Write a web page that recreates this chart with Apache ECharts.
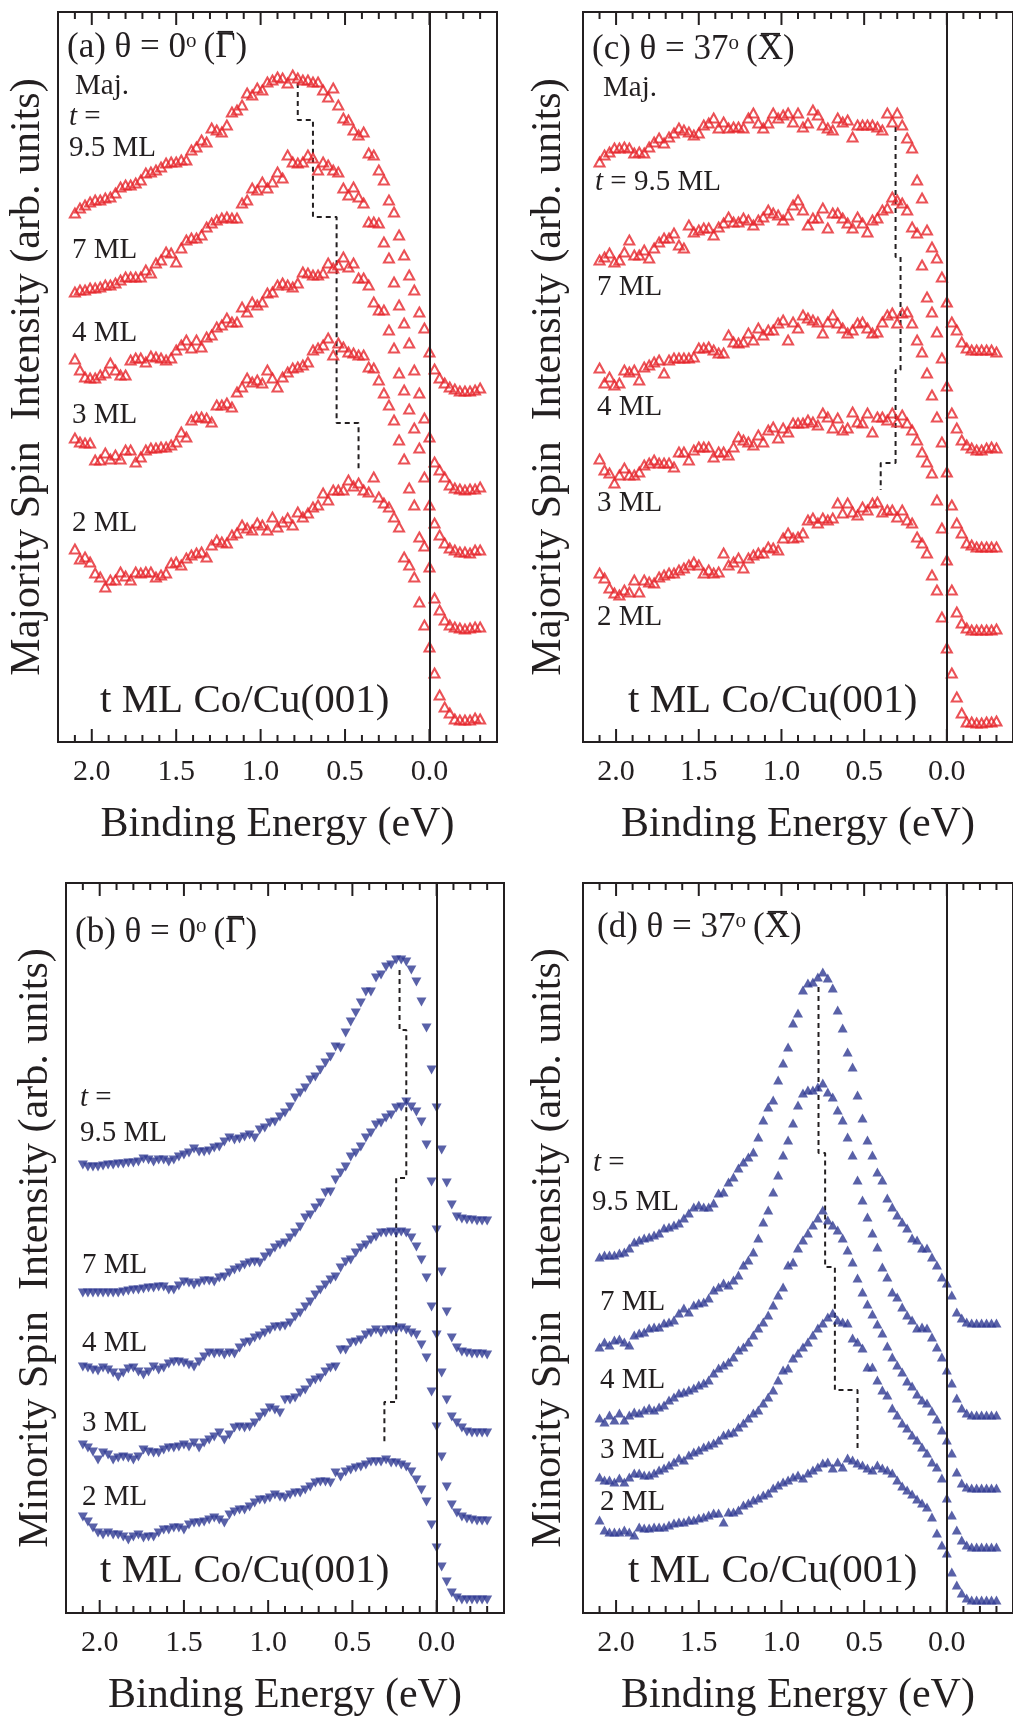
<!DOCTYPE html>
<html><head><meta charset="utf-8">
<script src="https://cdn.jsdelivr.net/npm/echarts/dist/echarts.min.js"></script>
<style>html,body{margin:0;padding:0;background:#fff}#c{width:1013px;height:1720px}</style>
</head><body><div id="c"></div>
<script>
// ---------------- DATA ----------------
// binding energy sampling (eV)
const energy = [2.10,2.07,2.04,2.01,1.98,1.95,1.92,1.89,1.86,1.83,1.80,1.77,1.74,1.71,1.68,1.65,1.62,1.59,1.56,1.53,
1.50,1.47,1.44,1.41,1.38,1.35,1.32,1.29,1.26,1.23,1.20,1.17,1.14,1.11,1.08,1.05,1.02,0.99,0.96,0.93,
0.90,0.87,0.84,0.81,0.78,0.75,0.72,0.69,0.66,0.63,0.60,0.57,0.54,0.51,0.48,0.45,0.42,0.39,0.36,0.33,
0.30,0.27,0.24,0.21,0.18,0.15,0.12,0.09,0.06,0.03,0.00,-0.03,-0.06,-0.09,-0.12,-0.15,-0.18,-0.21,-0.24,-0.27,-0.30];
const majorTicks = [2.0, 1.5, 1.0, 0.5, 0.0];
const minorTicks = [2.1,1.9,1.8,1.7,1.6,1.4,1.3,1.2,1.1,0.9,0.8,0.7,0.6,0.4,0.3,0.2,0.1,-0.1,-0.2,-0.3];
const thickness = ['9.5 ML','7 ML','4 ML','3 ML','2 ML'];

// (a) majority, theta = 0 (offset spectra, arb. units)
const a95 = [529,534,537,540,542,542,544,545,549,555,557,557,559,562,569,570,572,575,579,580,
580,582,582,592,595,602,600,614,612,610,617,630,632,637,649,647,654,652,660,662,
665,664,659,667,664,662,662,660,660,652,645,654,637,624,622,612,607,610,589,587,
572,562,542,530,507,487,467,452,430,414,390,373,364,359,355,353,351,351,351,352,354];
const a7 = [450,452,452,454,454,455,457,457,459,462,465,465,465,465,472,469,479,482,490,489,
480,494,502,504,504,507,515,519,522,524,525,524,524,539,542,554,552,560,554,560,
570,564,587,580,579,580,587,584,572,580,577,572,570,554,547,555,545,539,520,520,
519,500,484,460,437,419,399,372,349,324,305,280,272,265,257,254,253,252,253,253,255];
const a4 = [383,372,365,364,364,367,369,379,372,367,367,382,384,384,380,386,385,384,382,384,
392,397,402,394,402,395,405,407,415,417,424,420,420,435,430,440,437,440,449,450,
457,459,457,455,459,470,469,467,467,469,479,474,477,485,475,479,464,464,457,440,
432,432,412,394,369,352,333,314,294,265,237,219,207,199,194,192,190,190,189,192,192];
const a3 = [304,300,299,299,282,282,289,283,287,283,292,292,280,285,292,294,294,295,295,297,
300,310,305,322,325,325,324,320,337,337,339,335,350,355,364,360,362,359,372,364,
355,365,370,374,375,377,380,392,394,397,404,387,399,395,390,389,387,387,375,374,
362,349,337,322,302,283,254,237,205,196,175,144,132,122,117,115,114,113,114,115,115];
const a2 = [193,183,185,180,169,165,155,162,162,170,166,162,170,169,170,170,165,167,169,179,
180,177,184,187,189,190,185,197,202,200,199,207,209,217,214,212,219,217,212,225,
215,220,224,217,230,225,229,235,237,249,242,252,252,252,262,256,259,252,250,265,
245,239,235,225,215,185,177,165,140,117,95,69,47,35,29,23,22,22,22,24,23];
const aStep = [[0.78,659],[0.78,622],[0.69,622],[0.69,525],[0.55,525],[0.55,319],[0.42,319],[0.42,272]];

// (c) majority, theta = 37
const c95 = [580,587,590,594,594,595,594,589,590,589,595,600,604,599,605,609,614,612,610,607,
609,617,619,624,614,620,614,615,615,614,624,629,619,614,619,629,624,627,629,620,
629,615,619,632,627,617,614,612,624,620,622,605,617,617,617,617,615,612,629,620,
629,617,604,594,562,544,512,495,484,465,440,420,412,400,394,392,392,392,392,392,390];
const c7 = [482,485,489,480,482,490,502,487,487,492,484,494,500,504,504,509,497,494,517,510,
512,514,514,507,515,519,525,520,520,524,522,517,522,525,532,529,527,522,527,537,
542,532,517,524,524,534,514,529,529,524,519,514,525,519,510,522,524,532,534,545,
542,539,532,515,509,477,445,430,410,384,356,329,314,302,297,294,292,292,294,295,294];
const c4 = [374,359,365,357,359,372,370,372,362,375,377,380,382,369,382,384,384,384,384,385,
394,394,395,392,389,389,407,400,399,400,409,402,414,407,412,412,419,422,402,420,
414,427,424,422,420,409,420,427,419,414,409,412,419,420,414,409,410,420,427,429,
419,429,430,419,402,390,369,347,325,300,270,237,219,209,199,197,195,195,195,195,195];
const c3 = [283,272,269,259,267,274,267,267,270,277,279,282,279,279,279,275,290,290,282,292,
295,295,295,285,290,290,287,295,305,302,300,297,307,300,312,315,304,314,310,319,
319,319,322,320,317,329,325,314,324,312,314,330,320,319,329,310,325,325,322,329,
320,327,319,312,302,290,280,269,242,214,182,152,130,119,114,112,112,112,112,112,113];
const c2 = [169,164,154,149,147,152,150,162,150,162,160,159,165,167,169,169,172,174,177,180,
177,169,172,169,170,189,177,180,184,174,184,187,189,189,195,194,192,204,209,204,
205,209,222,224,219,224,222,224,239,229,239,230,227,235,232,239,240,230,232,232,
225,232,222,219,205,199,189,167,152,125,94,69,45,29,20,20,19,19,20,20,21];
const cStep = [[0.31,615],[0.31,485],[0.28,485],[0.28,372],[0.31,372],[0.31,279],[0.40,279],[0.40,252]];

// (b) minority, theta = 0
const b95 = [448,446,446,446,447,448,448,449,449,450,450,451,454,453,451,453,453,451,453,456,
458,460,464,461,461,462,465,466,471,475,473,474,476,478,475,483,485,490,491,496,
500,506,515,520,525,533,536,543,550,556,566,565,580,591,600,610,621,621,635,638,
646,648,653,653,651,643,631,611,585,543,505,463,430,408,396,394,393,393,392,392,392];
const b7 = [320,320,320,320,320,320,320,320,321,322,323,323,324,325,325,326,326,323,323,327,
331,330,328,330,332,332,331,335,336,340,343,345,348,350,351,350,356,360,365,368,
370,375,380,386,395,398,405,410,420,421,433,440,446,456,460,466,475,480,488,490,
495,498,505,506,511,506,501,491,468,431,383,341,301,275,265,261,260,259,259,259,258];
const b4 = [246,245,243,242,245,243,240,236,240,244,245,241,238,241,246,243,245,249,251,251,
250,248,246,251,256,260,259,260,258,260,259,265,270,271,275,277,280,283,286,286,
287,290,296,300,306,311,318,323,328,333,336,345,351,353,360,365,368,373,376,380,
380,381,380,381,380,375,366,353,335,306,278,240,213,196,190,185,181,180,180,180,180];
const b3 = [168,165,161,153,160,158,153,155,156,155,153,156,163,161,160,160,163,165,165,166,
168,166,170,165,170,173,176,180,173,178,185,186,185,186,190,196,200,205,203,200,
213,213,215,220,223,230,233,235,241,245,246,263,263,270,271,273,278,280,283,280,
283,283,283,285,283,280,278,268,255,221,186,156,126,108,100,96,94,93,92,92,92];
const b2 = [96,91,85,80,78,80,78,78,76,73,76,78,75,76,76,80,83,83,85,85,
83,88,90,90,91,93,95,93,90,98,101,103,103,106,110,113,113,115,118,116,
115,118,120,120,123,126,130,131,131,130,140,136,141,143,145,146,148,151,151,151,
153,150,150,148,146,141,133,123,111,88,65,46,31,20,15,13,13,13,13,13,13];
const bStep = [[0.22,643],[0.22,583],[0.18,583],[0.18,435],[0.24,435],[0.24,211],[0.31,211],[0.31,168]];

// (d) minority, theta = 37
const d95 = [356,358,358,358,360,361,365,371,373,375,376,378,380,385,386,388,390,395,400,406,
408,406,406,410,420,421,431,436,445,451,456,461,476,493,506,513,533,550,566,590,
600,623,630,631,636,641,635,625,603,585,561,546,518,495,473,458,441,433,415,406,
398,391,385,375,373,365,365,356,348,336,330,318,301,295,291,290,290,290,290,290,290];
const d7 = [266,271,268,273,274,271,268,278,280,281,285,286,286,290,291,293,300,305,301,308,
310,311,315,323,326,330,328,333,338,348,353,361,375,391,403,421,438,458,473,490,
508,520,523,523,526,530,521,516,503,493,476,458,433,413,396,380,366,346,336,321,
316,306,298,293,285,286,285,276,266,256,243,230,215,205,200,198,198,198,198,198,198];
const d4 = [195,191,198,193,200,193,198,201,200,203,205,203,206,208,213,216,220,221,223,225,
228,230,233,240,245,248,251,256,263,266,271,278,285,291,298,308,318,326,348,351,
365,373,380,388,395,403,393,388,383,375,363,351,335,321,309,299,289,280,267,256,
248,241,232,227,219,213,210,202,194,183,173,160,141,130,126,125,125,125,125,125,125];
const d3 = [136,133,133,131,135,131,136,140,140,138,138,140,143,145,148,151,155,153,158,161,
163,166,168,170,173,178,180,181,186,190,195,200,203,210,216,223,233,243,245,255,
260,266,271,278,285,290,296,300,293,291,290,275,271,265,246,246,233,223,218,205,
198,190,185,178,173,166,160,151,146,135,115,98,83,73,68,66,66,66,66,66,66];
const d2 = [93,83,81,81,81,83,81,78,86,85,85,86,86,86,88,90,91,91,93,93,
95,96,98,100,100,91,101,101,103,108,110,113,115,118,120,125,128,131,133,136,
138,135,140,143,146,150,151,145,151,146,155,153,150,148,145,143,148,145,143,140,
133,127,123,119,114,110,106,96,80,68,60,41,28,20,15,13,13,13,13,13,13];
const dStep = [[0.776,626],[0.776,460],[0.736,460],[0.736,346],[0.677,346],[0.677,223],[0.54,223],[0.54,163]];

// ---------------- STYLE / LAYOUT ----------------
const FONT = '"Liberation Serif", "Times New Roman", serif';
const INK = '#231f20';
const RED = '#e6262c';
const BLUE = '#2f3a92';
const Y_MAX = 730;          // arb.-unit span of each panel
const X_MIN = -0.4, X_MAX = 2.2;

const panels = [
  {grid:{left:58, top:12, width:439, height:730}, yName:'Majority Spin  Intensity (arb. units)', yGap:9,
   spectra:[a95,a7,a4,a3,a2], step:aStep, kind:'open'},
  {grid:{left:583, top:12, width:438, height:730}, yName:'Majority Spin  Intensity (arb. units)', yGap:13,
   spectra:[c95,c7,c4,c3,c2], step:cStep, kind:'open'},
  {grid:{left:66, top:883, width:438, height:730}, yName:'Minority Spin  Intensity (arb. units)', yGap:9,
   spectra:[b95,b7,b4,b3,b2], step:bStep, kind:'down'},
  {grid:{left:583, top:883, width:438, height:730}, yName:'Minority Spin  Intensity (arb. units)', yGap:13,
   spectra:[d95,d7,d4,d3,d2], step:dStep, kind:'up'}
];

// tick list: [energy, length, edge(0 bottom / 1 top)]
const tickItems = [];
majorTicks.forEach(e => { tickItems.push([e, 13, 0]); tickItems.push([e, 13, 1]); });
minorTicks.forEach(e => { tickItems.push([e, 7, 0]); tickItems.push([e, 7, 1]); });

const grids = [], xAxes = [], yAxes = [], series = [];
panels.forEach((p, g) => {
  grids.push(Object.assign({show:true, borderColor:INK, borderWidth:2}, p.grid));
  xAxes.push({gridIndex:g, type:'value', min:X_MIN, max:X_MAX, inverse:true, position:'bottom',
    axisLine:{show:false}, splitLine:{show:false}, axisTick:{show:false},
    axisLabel:{show:true, customValues:majorTicks, formatter:v => Number(v).toFixed(1),
      fontSize:30, fontFamily:FONT, color:INK, margin:15},
    name:'Binding Energy (eV)', nameLocation:'middle', nameGap:62,
    nameTextStyle:{fontSize:42, fontFamily:FONT, color:INK}});
  yAxes.push({gridIndex:g, type:'value', min:0, max:Y_MAX,
    axisLine:{show:false}, axisTick:{show:false}, axisLabel:{show:false}, splitLine:{show:false},
    name:p.yName, nameLocation:'middle', nameGap:p.yGap,
    nameTextStyle:{fontSize:42, fontFamily:FONT, color:INK}});

  p.spectra.forEach((vals, s) => {
    const item = p.kind === 'open'
      ? {color:'rgba(0,0,0,0)', borderColor:RED, borderWidth:2}
      : {color:BLUE};
    series.push({type:'scatter', name:thickness[s], xAxisIndex:g, yAxisIndex:g,
      symbol:'triangle', symbolSize:[10,9],
      symbolRotate:p.kind === 'down' ? 180 : 0,
      itemStyle:item, silent:true, z:3,
      data:energy.map((e, i) => [e, vals[i]])});
  });
  series.push({type:'line', xAxisIndex:g, yAxisIndex:g, data:p.step, symbol:'none', silent:true, z:2,
    lineStyle:{color:INK, width:2, type:[5,4]},
    markLine:{silent:true, symbol:'none', label:{show:false}, animation:false,
      lineStyle:{color:INK, width:2, type:'solid'}, data:[{xAxis:0}]}});
  // inward frame ticks drawn through the panel's own axis scales
  series.push({type:'custom', name:'ticks', xAxisIndex:g, yAxisIndex:g, silent:true, z:6, clip:false,
    encode:{x:0, y:1},
    data:tickItems,
    renderItem:(params, api) => {
      const e = api.value(0), len = api.value(1), top = api.value(2);
      const pt = api.coord([e, top ? Y_MAX : 0]);
      return {type:'rect',
        shape:{x:pt[0] - 1, y:top ? pt[1] : pt[1] - len, width:2, height:len},
        style:{fill:INK}};
    }});
});

// ---- text annotations ----
const measure = document.createElement('canvas').getContext('2d');
function tw(s, size) { measure.font = size + 'px ' + FONT; return measure.measureText(s).width; }

const TITLE = 35;
// [panel label, angle, point symbol, x, baseline]
const titles = [['(a)', '0', 'Γ', 67, 60], ['(c)', '37', 'X', 592, 62],
                ['(b)', '0', 'Γ', 75, 945], ['(d)', '37', 'X', 597, 940]];
// [text, x, baseline, size]
const texts = [
  ['Maj.', 75, 96, 29], ['{i|t} =', 69, 127, 29], ['9.5 ML', 69, 158, 29],
  ['7 ML', 72, 260, 29], ['4 ML', 72, 343, 29], ['3 ML', 72, 425, 29], ['2 ML', 72, 533, 29],
  ['t ML Co/Cu(001)', 100, 715, 41],
  ['Maj.', 603, 98, 29], ['{i|t} = 9.5 ML', 595, 192, 29],
  ['7 ML', 597, 297, 29], ['4 ML', 597, 417, 29], ['3 ML', 597, 513, 29], ['2 ML', 597, 627, 29],
  ['t ML Co/Cu(001)', 628, 715, 41],
  ['{i|t} =', 80, 1108, 29], ['9.5 ML', 80, 1143, 29],
  ['7 ML', 82, 1275, 29], ['4 ML', 82, 1353, 29], ['3 ML', 82, 1433, 29], ['2 ML', 82, 1507, 29],
  ['t ML Co/Cu(001)', 100, 1585, 41],
  ['{i|t} =', 593, 1173, 29], ['9.5 ML', 592, 1212, 29],
  ['7 ML', 600, 1312, 29], ['4 ML', 600, 1390, 29], ['3 ML', 600, 1460, 29], ['2 ML', 600, 1512, 29],
  ['t ML Co/Cu(001)', 628, 1585, 41]
];
function textEl(t, x, bl, size) {
  return {type:'text', x:x, y:bl - 0.3375*size, silent:true, z:10,
    style:{text:t, fontSize:size, fontFamily:FONT, fill:INK, align:'left', verticalAlign:'middle',
      textVerticalAlign:'middle',
      rich:{
        i:{fontStyle:'italic', fontSize:size, fontFamily:FONT, fill:INK},
        s:{fontSize:Math.round(size*0.6), fontFamily:FONT, fill:INK, verticalAlign:'top'}
      }}};
}
const graphic = texts.map(([t, x, bl, size]) => textEl(t, x, bl, size));
titles.forEach(([lab, ang, pt, x, bl]) => {
  const pre = lab + ' θ = ' + ang;
  const mid = '\u2009(';
  graphic.push(textEl(pre + '{s|o}' + mid + pt + ')', x, bl, TITLE));
  const x0 = x + tw(pre, TITLE) + tw('o', Math.round(TITLE*0.6)) + tw(mid, TITLE);
  const w = tw(pt, TITLE);
  // overbar on the high-symmetry point letter
  graphic.push({type:'rect', silent:true, z:10,
    shape:{x:x0 + 0.12*w, y:bl - 0.66*TITLE - 6, width:0.76*w, height:2},
    style:{fill:INK}});
});

const chart = echarts.init(document.getElementById('c'), null, {renderer:'canvas', width:1013, height:1720});
chart.setOption({animation:false, backgroundColor:'#fff', grid:grids, xAxis:xAxes, yAxis:yAxes,
  series:series, graphic:graphic});
</script></body></html>
